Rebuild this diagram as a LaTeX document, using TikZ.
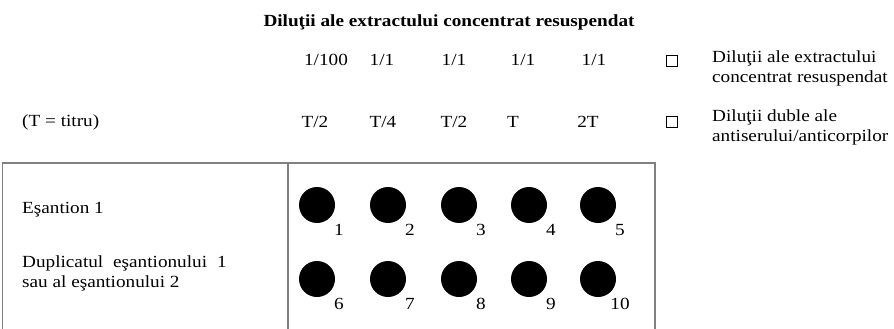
\documentclass[tikz,border=0pt]{standalone}
\usepackage{fontspec}
\setmainfont[FakeStretch=1.13]{Liberation Serif}
\begin{document}
\begin{tikzpicture}[x=1pt,y=-1pt,
  lbl/.style={inner sep=0pt,font=\fontsize{17}{20}\selectfont},
  lft/.style={lbl,anchor=west,align=left},
  well/.style={circle,fill=black,minimum size=36pt,inner sep=0pt},
  num/.style={lbl},
  chk/.style={draw,line width=1.3pt,minimum size=11pt,inner sep=0pt},
  frame/.style={draw=black!50,line width=1.4pt}]
\useasboundingbox (0,0) rectangle (894,329);
\node[lbl,font=\bfseries\fontsize{17}{20}\selectfont] (title) at (449,22) {Diluţii ale extractului concentrat resuspendat};
% row 1
\node[lbl] (a1) at (326,60) {1/100};
\node[lbl] (a2) at (382,60) {1/1};
\node[lbl] (a3) at (454,60) {1/1};
\node[lbl] (a4) at (523,60) {1/1};
\node[lbl] (a5) at (594,60) {1/1};
\node[chk] (c1) at (672,61) {};
\node[lft] (l1) at (712,68) {Diluţii ale extractului\\concentrat resuspendat};
% row 2
\node[lft] (tt) at (22,122) {(T = titru)};
\node[lbl] (b1) at (315,122) {T/2};
\node[lbl] (b2) at (383,122) {T/4};
\node[lbl] (b3) at (454,122) {T/2};
\node[lbl] (b4) at (513,122) {T};
\node[lbl] (b5) at (588,122) {2T};
\node[chk] (c2) at (672,122) {};
\node[lft] (l2) at (712,127) {Diluţii duble ale\\antiserului/anticorpilor};
% frame
\coordinate (tl) at (2.5,163);
\coordinate (tm) at (288,163);
\coordinate (tr) at (655,163);
\draw[frame] (2.5,330) -- (tl) -- (tr) -- (655,330);
\draw[frame] (tm) -- (288,330);
\node[lft] (s1) at (22,210) {Eşantion 1};
\node[lft] (s2) at (22,273) {Duplicatul\hspace{0.3em} eşantionului\hspace{0.3em} 1\\sau al eşantionului 2};
% wells
\foreach \i/\x in {1/317,2/388,3/459,4/529,5/598}{
  \node[well] (w\i) at (\x,205) {};
  \node[num] (n\i) at ([shift={(22,25)}]w\i.center) {\i};
}
\foreach \i/\x in {6/317,7/388,8/459,9/529,10/598}{
  \node[well] (w\i) at (\x,279) {};
  \node[num] (n\i) at ([shift={(22,25)}]w\i.center) {\i};
}
\end{tikzpicture}
\end{document}
